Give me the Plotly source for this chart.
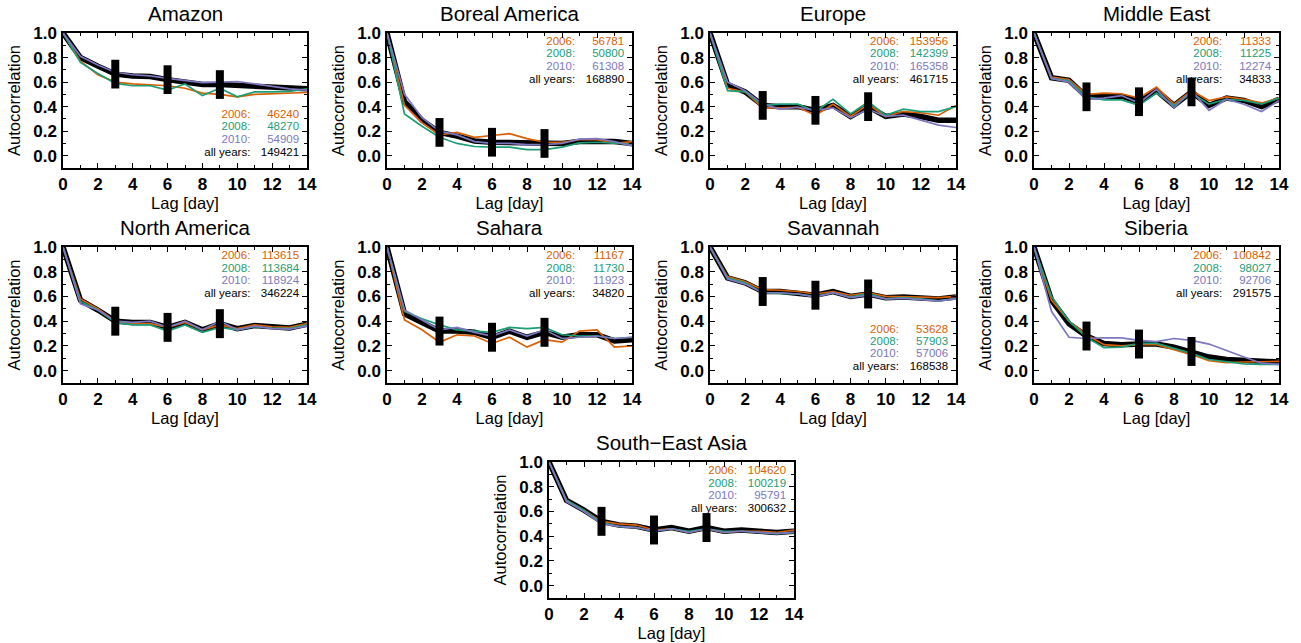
import plotly.graph_objects as go

LAGS = list(range(15))
YEARS = ["2006", "2008", "2010"]
ERR_LAGS = [3, 6, 9]
ERR_HALF = 0.117

# ---------------- data ----------------
AMAZON_2006 = [1.0, 0.77, 0.66, 0.60, 0.585, 0.58, 0.57, 0.55, 0.51, 0.50, 0.48, 0.50, 0.505, 0.51, 0.515]
AMAZON_2008 = [1.0, 0.76, 0.67, 0.59, 0.57, 0.57, 0.535, 0.585, 0.49, 0.55, 0.48, 0.52, 0.52, 0.525, 0.545]
AMAZON_2010 = [1.0, 0.81, 0.74, 0.68, 0.66, 0.65, 0.63, 0.615, 0.595, 0.60, 0.605, 0.585, 0.565, 0.545, 0.535]
AMAZON_ALL = [1.0, 0.80, 0.73, 0.665, 0.65, 0.645, 0.62, 0.60, 0.58, 0.58, 0.575, 0.565, 0.555, 0.55, 0.545]
AMAZON_N = [46240, 48270, 54909, 149421]

BOREAL_2006 = [1.0, 0.41, 0.27, 0.17, 0.19, 0.15, 0.165, 0.18, 0.14, 0.11, 0.11, 0.13, 0.13, 0.10, 0.115]
BOREAL_2008 = [1.0, 0.34, 0.24, 0.15, 0.10, 0.075, 0.07, 0.07, 0.05, 0.05, 0.07, 0.105, 0.11, 0.10, 0.095]
BOREAL_2010 = [1.0, 0.50, 0.31, 0.20, 0.17, 0.115, 0.10, 0.10, 0.09, 0.09, 0.10, 0.135, 0.14, 0.115, 0.08]
BOREAL_ALL = [1.0, 0.44, 0.29, 0.19, 0.16, 0.12, 0.11, 0.11, 0.105, 0.10, 0.10, 0.115, 0.12, 0.115, 0.10]
BOREAL_N = [56781, 50800, 61308, 168890]

EUROPE_2006 = [1.0, 0.55, 0.52, 0.39, 0.39, 0.395, 0.33, 0.42, 0.32, 0.42, 0.32, 0.36, 0.35, 0.33, 0.41]
EUROPE_2008 = [1.0, 0.53, 0.52, 0.41, 0.42, 0.42, 0.36, 0.46, 0.34, 0.44, 0.33, 0.38, 0.36, 0.36, 0.40]
EUROPE_2010 = [1.0, 0.60, 0.53, 0.42, 0.38, 0.395, 0.37, 0.39, 0.31, 0.38, 0.32, 0.33, 0.29, 0.25, 0.23]
EUROPE_ALL = [1.0, 0.58, 0.52, 0.41, 0.40, 0.40, 0.37, 0.41, 0.32, 0.40, 0.32, 0.34, 0.32, 0.29, 0.29]
EUROPE_N = [153956, 142399, 165358, 461715]

MIDEAST_2006 = [1.0, 0.64, 0.62, 0.50, 0.51, 0.505, 0.47, 0.56, 0.42, 0.53, 0.45, 0.48, 0.46, 0.43, 0.47]
MIDEAST_2008 = [1.0, 0.63, 0.61, 0.48, 0.455, 0.455, 0.41, 0.51, 0.41, 0.51, 0.42, 0.46, 0.45, 0.42, 0.47]
MIDEAST_2010 = [1.0, 0.63, 0.60, 0.46, 0.47, 0.49, 0.43, 0.54, 0.39, 0.53, 0.37, 0.46, 0.42, 0.36, 0.45]
MIDEAST_ALL = [1.0, 0.635, 0.615, 0.48, 0.48, 0.485, 0.44, 0.53, 0.41, 0.52, 0.41, 0.47, 0.45, 0.40, 0.46]
MIDEAST_N = [11333, 11225, 12274, 34833]

NORTHAM_2006 = [1.0, 0.58, 0.50, 0.40, 0.38, 0.38, 0.35, 0.39, 0.33, 0.37, 0.34, 0.37, 0.355, 0.35, 0.38]
NORTHAM_2008 = [1.0, 0.56, 0.49, 0.39, 0.37, 0.37, 0.32, 0.37, 0.31, 0.35, 0.33, 0.355, 0.345, 0.34, 0.37]
NORTHAM_2010 = [1.0, 0.54, 0.49, 0.40, 0.39, 0.40, 0.35, 0.40, 0.33, 0.40, 0.33, 0.36, 0.34, 0.335, 0.36]
NORTHAM_ALL = [1.0, 0.57, 0.49, 0.40, 0.39, 0.39, 0.35, 0.39, 0.33, 0.38, 0.34, 0.365, 0.355, 0.345, 0.375]
NORTHAM_N = [113615, 113684, 118924, 346224]

SAHARA_2006 = [1.0, 0.41, 0.33, 0.23, 0.29, 0.28, 0.22, 0.27, 0.19, 0.25, 0.23, 0.32, 0.33, 0.19, 0.20]
SAHARA_2008 = [1.0, 0.48, 0.42, 0.37, 0.33, 0.32, 0.31, 0.35, 0.34, 0.35, 0.29, 0.28, 0.28, 0.26, 0.27]
SAHARA_2010 = [1.0, 0.49, 0.41, 0.33, 0.35, 0.31, 0.28, 0.33, 0.28, 0.33, 0.26, 0.27, 0.28, 0.26, 0.27]
SAHARA_ALL = [1.0, 0.46, 0.39, 0.32, 0.32, 0.31, 0.27, 0.32, 0.27, 0.31, 0.27, 0.29, 0.29, 0.24, 0.25]
SAHARA_N = [11167, 11730, 11923, 34820]

SAVANNAH_2006 = [1.0, 0.76, 0.72, 0.655, 0.65, 0.64, 0.62, 0.64, 0.61, 0.63, 0.60, 0.60, 0.595, 0.59, 0.60]
SAVANNAH_2008 = [1.0, 0.75, 0.71, 0.63, 0.625, 0.62, 0.60, 0.63, 0.595, 0.625, 0.58, 0.59, 0.58, 0.565, 0.585]
SAVANNAH_2010 = [1.0, 0.74, 0.70, 0.63, 0.63, 0.62, 0.595, 0.63, 0.59, 0.61, 0.58, 0.585, 0.575, 0.565, 0.58]
SAVANNAH_ALL = [1.0, 0.75, 0.71, 0.64, 0.64, 0.63, 0.61, 0.64, 0.60, 0.62, 0.59, 0.595, 0.59, 0.58, 0.595]
SAVANNAH_N = [53628, 57903, 57006, 168538]

SIBERIA_2006 = [1.0, 0.57, 0.40, 0.29, 0.21, 0.20, 0.21, 0.21, 0.17, 0.13, 0.08, 0.065, 0.07, 0.075, 0.075]
SIBERIA_2008 = [1.0, 0.60, 0.40, 0.27, 0.185, 0.19, 0.22, 0.22, 0.18, 0.14, 0.09, 0.07, 0.055, 0.05, 0.05]
SIBERIA_2010 = [1.0, 0.48, 0.27, 0.26, 0.265, 0.265, 0.245, 0.235, 0.26, 0.245, 0.215, 0.16, 0.11, 0.06, 0.05]
SIBERIA_ALL = [1.0, 0.57, 0.38, 0.28, 0.22, 0.21, 0.215, 0.215, 0.19, 0.155, 0.11, 0.09, 0.085, 0.08, 0.07]
SIBERIA_N = [100842, 98027, 92706, 291575]

SEASIA_2006 = [1.0, 0.69, 0.61, 0.52, 0.50, 0.49, 0.45, 0.46, 0.43, 0.46, 0.43, 0.44, 0.44, 0.43, 0.45]
SEASIA_2008 = [1.0, 0.69, 0.61, 0.51, 0.48, 0.47, 0.44, 0.46, 0.44, 0.46, 0.44, 0.44, 0.43, 0.42, 0.43]
SEASIA_2010 = [1.0, 0.68, 0.60, 0.50, 0.48, 0.47, 0.44, 0.46, 0.43, 0.46, 0.43, 0.44, 0.43, 0.42, 0.43]
SEASIA_ALL = [1.0, 0.69, 0.61, 0.52, 0.49, 0.48, 0.45, 0.47, 0.44, 0.47, 0.44, 0.45, 0.44, 0.43, 0.44]
SEASIA_N = [104620, 100219, 95791, 300632]

TITLES = ["Amazon", "Boreal America", "Europe", "Middle East", "North America",
          "Sahara", "Savannah", "Siberia", "South\u2212East Asia"]
SERIES_2006 = [AMAZON_2006, BOREAL_2006, EUROPE_2006, MIDEAST_2006, NORTHAM_2006,
               SAHARA_2006, SAVANNAH_2006, SIBERIA_2006, SEASIA_2006]
SERIES_2008 = [AMAZON_2008, BOREAL_2008, EUROPE_2008, MIDEAST_2008, NORTHAM_2008,
               SAHARA_2008, SAVANNAH_2008, SIBERIA_2008, SEASIA_2008]
SERIES_2010 = [AMAZON_2010, BOREAL_2010, EUROPE_2010, MIDEAST_2010, NORTHAM_2010,
               SAHARA_2010, SAVANNAH_2010, SIBERIA_2010, SEASIA_2010]
SERIES_ALL = [AMAZON_ALL, BOREAL_ALL, EUROPE_ALL, MIDEAST_ALL, NORTHAM_ALL,
              SAHARA_ALL, SAVANNAH_ALL, SIBERIA_ALL, SEASIA_ALL]
COUNTS = [AMAZON_N, BOREAL_N, EUROPE_N, MIDEAST_N, NORTHAM_N,
          SAHARA_N, SAVANNAH_N, SIBERIA_N, SEASIA_N]
LEGEND_BOTTOM = [True, False, False, False, False, False, True, False, False]

# ---------------- layout / styling ----------------
W, H = 1301, 643
COL_PX = [(63, 307), (387, 632), (710, 956), (1034, 1279)]
ROW_PX = [(33, 168), (247, 383), (462, 598)]
PANEL_BOX = [(COL_PX[i % 4], ROW_PX[i // 4]) for i in range(8)] + [((549, 794), ROW_PX[2])]

COLORS = ["#d95f02", "#1b9e77", "#7c77c0"]
FONT = "Liberation Sans, Arial, Helvetica, sans-serif"
TOP_ROWS_Y = [0.925, 0.825, 0.725, 0.62]
BOT_ROWS_Y = [0.33, 0.23, 0.13, 0.025]
LABEL_X = 10.75
NUM_X = 13.55

fig = go.Figure()
annotations = []
layout_axes = {}

for i, title in enumerate(TITLES):
    n = i + 1
    xa = "x" if n == 1 else f"x{n}"
    ya = "y" if n == 1 else f"y{n}"
    all_years = SERIES_ALL[i]

    fig.add_trace(go.Scatter(x=LAGS, y=all_years, mode="lines",
                             line=dict(color="black", width=5.5),
                             xaxis=xa, yaxis=ya, showlegend=False, hoverinfo="skip"))
    for series, color in zip([SERIES_2006[i], SERIES_2008[i], SERIES_2010[i]], COLORS):
        fig.add_trace(go.Scatter(x=LAGS, y=series, mode="lines",
                                 line=dict(color=color, width=1.7),
                                 xaxis=xa, yaxis=ya, showlegend=False, hoverinfo="skip"))

    rows_y = BOT_ROWS_Y if LEGEND_BOTTOM[i] else TOP_ROWS_Y
    labels = [y + ":" for y in YEARS] + ["all years:"]
    nums = [str(v) for v in COUNTS[i]]
    text_colors = COLORS + ["black"]
    fig.add_trace(go.Scatter(x=[LABEL_X] * 4, y=rows_y, text=labels, mode="text",
                             textposition="middle left",
                             textfont=dict(family=FONT, size=11.5, color=text_colors),
                             xaxis=xa, yaxis=ya, showlegend=False, hoverinfo="skip"))
    fig.add_trace(go.Scatter(x=[NUM_X] * 4, y=rows_y, text=nums, mode="text",
                             textposition="middle left",
                             textfont=dict(family=FONT, size=11.5, color=text_colors),
                             xaxis=xa, yaxis=ya, showlegend=False, hoverinfo="skip"))

    fig.add_trace(go.Scatter(x=ERR_LAGS, y=[all_years[k] for k in ERR_LAGS], mode="markers",
                             marker=dict(color="black", size=1),
                             error_y=dict(type="constant", value=ERR_HALF, thickness=8,
                                          width=0, color="black"),
                             xaxis=xa, yaxis=ya, showlegend=False, hoverinfo="skip"))

    (x0, x1), (y0, y1) = PANEL_BOX[i]
    xdom = [x0 / W, x1 / W]
    ydom = [1 - y1 / H, 1 - y0 / H]
    common = dict(showline=True, linecolor="black", linewidth=1.5, mirror="allticks",
                  ticks="inside", ticklen=5, tickwidth=1.2, tickcolor="black",
                  showgrid=False, zeroline=False, automargin=False,
                  tickfont=dict(family=FONT, size=17, color="black", weight="bold"))
    layout_axes["xaxis" if n == 1 else f"xaxis{n}"] = dict(
        domain=xdom, anchor=ya, range=[0, 14], tick0=0, dtick=2,
        minor=dict(ticks="inside", dtick=1, ticklen=3, tickcolor="black", tickwidth=1),
        ticklabelstandoff=0,
        title=dict(text="Lag [day]", font=dict(family=FONT, size=16.5, color="black"), standoff=0),
        **common)
    layout_axes["yaxis" if n == 1 else f"yaxis{n}"] = dict(
        domain=ydom, anchor=xa, range=[-0.1, 1.0], tick0=0, dtick=0.2, tickformat=".1f",
        minor=dict(ticks="inside", dtick=0.1, ticklen=3, tickcolor="black", tickwidth=1),
        ticklabelstandoff=1,
        title=dict(text="Autocorrelation", font=dict(family=FONT, size=16.5, color="black"), standoff=8),
        **common)
    annotations.append(dict(text=title, x=(xdom[0] + xdom[1]) / 2, y=ydom[1],
                            xref="paper", yref="paper", xanchor="center", yanchor="bottom",
                            yshift=6, showarrow=False,
                            font=dict(family=FONT, size=20.5, color="black")))

fig.update_layout(width=W, height=H, autosize=False,
                  margin=dict(l=0, r=0, t=0, b=0, pad=0, autoexpand=False),
                  paper_bgcolor="white", plot_bgcolor="white",
                  annotations=annotations, **layout_axes)

POST = ("document.body.style.margin='0';document.body.style.padding='0';"
        "document.body.style.overflow='hidden';"
        "var d=document.getElementsByClassName('plotly-graph-div')[0];"
        "d.style.position='fixed';d.style.left='0px';d.style.top='0px';")
fig.write_html("out.html", config={"displayModeBar": False}, post_script=POST)
